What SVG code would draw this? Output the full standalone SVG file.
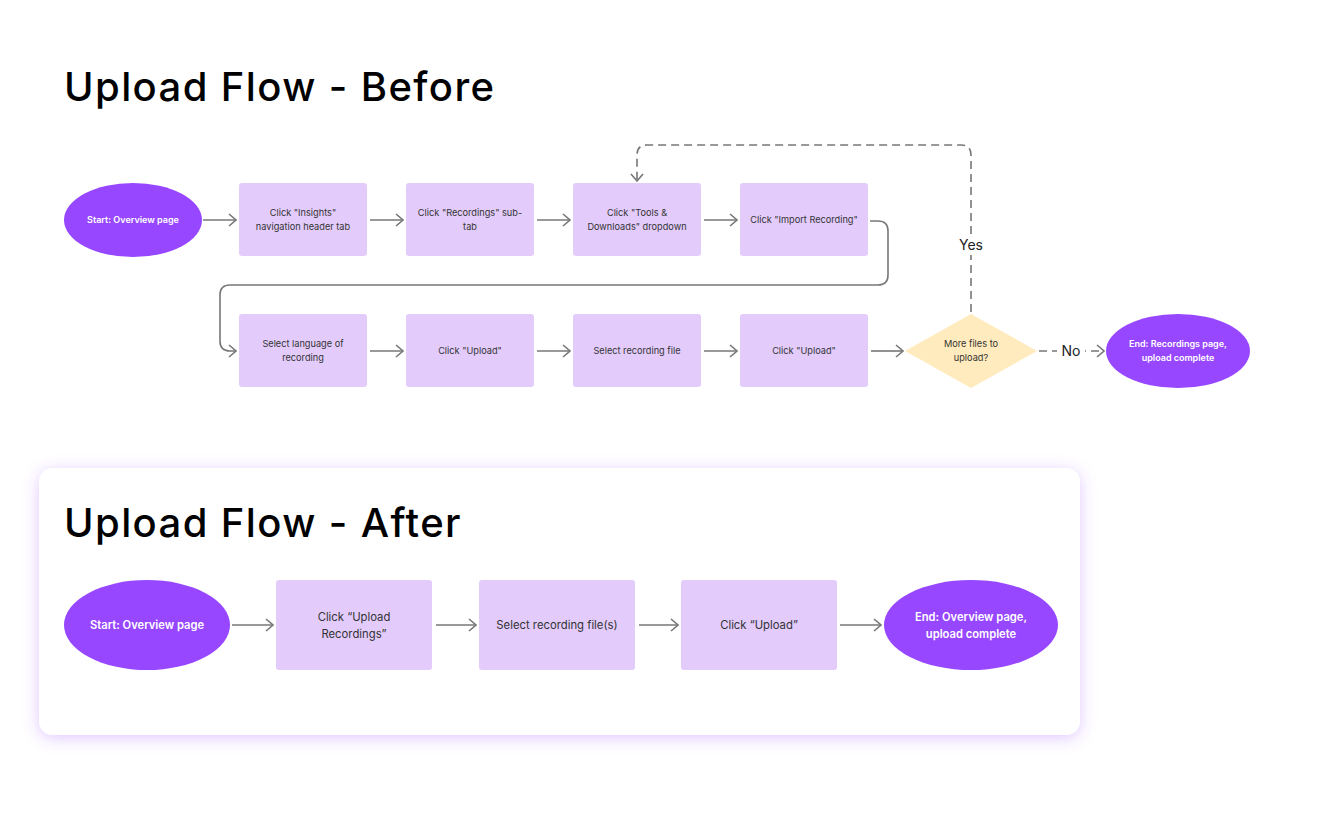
<svg xmlns="http://www.w3.org/2000/svg" width="1323" height="821" viewBox="0 0 1323 821">
<style>
.title{font-family:Inter,"Liberation Sans",sans-serif;font-size:40px;font-weight:500;fill:#000;letter-spacing:1.4px}
.box{fill:#E3CCFC}
.oval{fill:#9747FF}
.dia{fill:#FFEBBD}
.t{font-family:Inter,"Liberation Sans",sans-serif;font-size:9.2px;fill:#333;text-anchor:middle}
.tw{font-family:Inter,"Liberation Sans",sans-serif;font-size:9px;font-weight:600;fill:#fff;text-anchor:middle}
.t2{font-family:Inter,"Liberation Sans",sans-serif;font-size:11.3px;fill:#333;text-anchor:middle}
.tw2{font-family:Inter,"Liberation Sans",sans-serif;font-size:11.2px;font-weight:600;fill:#fff;text-anchor:middle}
.lbl{font-family:Inter,"Liberation Sans",sans-serif;font-size:14px;fill:#222;text-anchor:middle}
.c{fill:none;stroke:#777;stroke-width:1.6;marker-end:url(#ah)}
.d{fill:none;stroke:#777;stroke-width:1.6;stroke-dasharray:8 5;marker-end:url(#ah)}
</style>
<defs>
<marker id="ah" viewBox="0 0 10 14" refX="9" refY="7" markerWidth="10" markerHeight="14" markerUnits="userSpaceOnUse" orient="auto">
<path d="M2,1 L9,7 L2,13" fill="none" stroke="#777" stroke-width="1.6"/>
</marker>
<filter id="glow" x="-10%" y="-25%" width="120%" height="150%">
<feDropShadow dx="0" dy="3" stdDeviation="8" flood-color="#9747FF" flood-opacity="0.3"/>
</filter>
</defs>
<rect width="1323" height="821" fill="#fff"/>

<text class="title" x="64" y="101">Upload Flow - Before</text>

<g id="b-start"><ellipse class="oval" cx="133" cy="220" rx="69" ry="37"/><text class="tw" x="133" y="223">Start: Overview page</text></g>
<g id="b-insights"><rect class="box" x="239" y="183" width="128" height="73" rx="3"/><text class="t" x="303" y="216">Click "Insights"</text><text class="t" x="303" y="230">navigation header tab</text></g>
<g id="b-recordings"><rect class="box" x="406" y="183" width="128" height="73" rx="3"/><text class="t" x="470" y="216">Click "Recordings" sub-</text><text class="t" x="470" y="230">tab</text></g>
<g id="b-tools"><rect class="box" x="573" y="183" width="128" height="73" rx="3"/><text class="t" x="637" y="216">Click "Tools &amp;</text><text class="t" x="637" y="230">Downloads" dropdown</text></g>
<g id="b-import"><rect class="box" x="740" y="183" width="128" height="73" rx="3"/><text class="t" x="804" y="223">Click "Import Recording"</text></g>
<g id="b-language"><rect class="box" x="239" y="314" width="128" height="73" rx="3"/><text class="t" x="303" y="347">Select language of</text><text class="t" x="303" y="361">recording</text></g>
<g id="b-upload1"><rect class="box" x="406" y="314" width="128" height="73" rx="3"/><text class="t" x="470" y="354">Click "Upload"</text></g>
<g id="b-selectfile"><rect class="box" x="573" y="314" width="128" height="73" rx="3"/><text class="t" x="637" y="354">Select recording file</text></g>
<g id="b-upload2"><rect class="box" x="740" y="314" width="128" height="73" rx="3"/><text class="t" x="804" y="354">Click "Upload"</text></g>
<g id="b-more"><polygon class="dia" points="971,314 1037,351 971,388 905,351"/><text class="t" x="971" y="347">More files to</text><text class="t" x="971" y="361">upload?</text></g>
<g id="b-end"><ellipse class="oval" cx="1178" cy="351" rx="72" ry="37"/><text class="tw" x="1178" y="347">End: Recordings page,</text><text class="tw" x="1178" y="361">upload complete</text></g>

<g id="b-connectors">
<path class="c" d="M203,220 H236"/>
<path class="c" d="M370,220 H403"/>
<path class="c" d="M537,220 H570"/>
<path class="c" d="M704,220 H737"/>
<path class="c" d="M870,221 H878 Q888,221 888,231 V275 Q888,285 878,285 H230 Q220,285 220,295 V341 Q220,351 230,351 H236"/>
<path class="c" d="M370,351 H403"/>
<path class="c" d="M537,351 H570"/>
<path class="c" d="M704,351 H737"/>
<path class="c" d="M871,351 H903"/>
<path class="d" d="M971,312 V155 Q971,145 961,145 H647 Q637,145 637,155 V181"/>
<rect x="955" y="235" width="32" height="20" fill="#fff"/>
<text class="lbl" x="971" y="250">Yes</text>
<path class="d" d="M1039,351 H1104" stroke-dasharray="6 4"/>
<rect x="1057" y="341" width="28" height="20" fill="#fff"/>
<text class="lbl" x="1071" y="356">No</text>
</g>

<rect x="39" y="468" width="1041" height="267" rx="14" fill="#fff" filter="url(#glow)"/>
<text class="title" x="64" y="537">Upload Flow - After</text>

<g id="a-start"><ellipse class="oval" cx="147" cy="625" rx="83" ry="45"/><text class="tw2" x="147" y="629">Start: Overview page</text></g>
<g id="a-uploadrec"><rect class="box" x="276" y="580" width="156" height="90" rx="3"/><text class="t2" x="354" y="621">Click “Upload</text><text class="t2" x="354" y="638">Recordings”</text></g>
<g id="a-select"><rect class="box" x="479" y="580" width="156" height="90" rx="3"/><text class="t2" x="557" y="629">Select recording file(s)</text></g>
<g id="a-upload"><rect class="box" x="681" y="580" width="156" height="90" rx="3"/><text class="t2" x="759" y="629">Click “Upload”</text></g>
<g id="a-end"><ellipse class="oval" cx="971" cy="625" rx="87" ry="45"/><text class="tw2" x="971" y="621">End: Overview page,</text><text class="tw2" x="971" y="638">upload complete</text></g>

<g id="a-connectors">
<path class="c" d="M232,625 H273"/>
<path class="c" d="M436,625 H476"/>
<path class="c" d="M639,625 H678"/>
<path class="c" d="M840,625 H881"/>
</g>
</svg>
